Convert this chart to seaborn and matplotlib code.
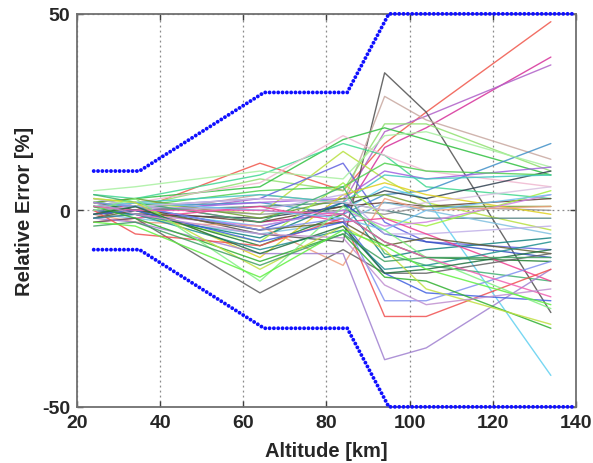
import matplotlib
matplotlib.use("Agg")
import matplotlib.pyplot as plt
import numpy as np
import pandas as pd
import seaborn as sns

# Altitudes (km) at which every retrieval profile is evaluated
altitude = [24, 34, 64, 84, 94, 104, 134]

# Relative error profiles [%] that end high / have a large upper excursion
upper_profiles = [
    [2, 0, 12, 5, 17, 25, 48],
    [-1, 2, -3, -1, 16, 21, 39],
    [0, -1, 3, 2, 20, 24, 37],
    [-2, 1, -6, -8, 35, 25, -26],
    [1, -1, 4, 2, 29, 23, 13],
    [3, 1, 8, 5, 22, 22, 10],
    [2, 3, 6, 18, 21, 18, 9],
    [4, 3, 9, 17, 14, 6, 3],
    [0, 2, 7, 19, 14, 10, 6],
    [0, 1, 2, -1, 4, 5, 17],
    [1, 2, -1, 15, 8, 2, -5],
    [0, 1, 3, 12, -3, -8, -10],
    [1, 0, -4, 0, 6, 3, -42],
    [5, 6, 10, 8, 19, 20, 11],
    [-1, 0, 2, 3, 10, 8, 11],
    [1, -1, -2, 1, 5, 3, 10],
    [2, 1, 5, 6, 12, 10, 9],
    [0, 2, 4, 2, 9, 8, 9],
]

# Profiles staying near zero
middle_profiles = [
    [-1, 0, -3, 1, 2, 1, 3],
    [0, 1, -1, 0, -1, 1, 0],
    [1, 0, 1, 2, 0, -2, -2],
    [2, 3, -2, 3, 4, 1, 1],
    [-1, -2, -6, -3, 2, 0, -6],
    [3, 2, -12, 4, 7, 4, -1],
    [1, -1, -8, 7, -2, -4, 5],
    [0, 1, -5, 2, -6, -8, -12],
    [-2, -1, -4, 0, -4, -3, 4],
    [2, 0, -9, -1, -8, -12, -13],
    [0, -1, -7, 2, -12, -10, -7],
    [-1, -3, -4, -14, 3, 0, 1],
    [3, 1, 0, 4, -6, -6, -4],
    [4, 2, -3, 6, -11, -14, -18],
    [-3, -2, 1, -3, -2, -6, -18],
    [-2, 0, -5, -3, -9, -7, -11],
    [1, 2, 0, -2, -5, 0, 4],
    [0, 1, 3, 2, 0, 2, 6],
]

# Profiles with a negative bias above 90 km
lower_profiles = [
    [-3, -2, -21, -10, -16, -16, -11],
    [-2, -3, -11, -11, -38, -35, -15],
    [0, -6, -9, -2, -27, -27, -15],
    [-1, 0, -8, -3, -16, -21, -23],
    [2, 1, -5, -2, -23, -23, -13],
    [-2, -1, -10, -5, -15, -14, -8],
    [1, -2, -13, -6, -17, -18, -30],
    [3, 2, -15, -4, -10, -20, -29],
    [0, 3, -18, 1, -5, -12, -25],
    [1, 0, 0, -1, -8, -12, -22],
    [-1, 1, -11, -4, -16, -15, -10],
    [2, -1, -6, -7, -19, -24, -20],
    [-4, -3, -14, -6, -13, -12, -12],
    [-3, -4, -17, -5, -9, -15, -24],
]

profile_colors = [
    "#f0564a", "#d6309a", "#b060c8", "#505050", "#c8a8a0", "#90e070",
    "#30c040", "#40d890", "#f0b8d0", "#4090c8", "#b8e040", "#6060e0",
    "#60d0f0", "#a8f0a0", "#a060e0", "#304050", "#50d050", "#40c8c0",
    "#604030", "#909090", "#508080", "#70a030", "#80c0e0", "#e0d020",
    "#a0f040", "#3050c0", "#d080e0", "#208030", "#108080", "#f0a080",
    "#c0b0e8", "#40b070", "#f04090", "#606030", "#70c0f0", "#d8c0e0",
    "#606060", "#a080d0", "#f05050", "#4060e0", "#8090f0", "#209090",
    "#30b030", "#c0e040", "#80f080", "#f060b0", "#207040", "#c090d0",
    "#40a060", "#60f040",
]

# Error tolerance envelope [%]
envelope_alt = [24, 35, 65, 85, 95, 140]
envelope_upper = [10, 10, 30, 30, 50, 50]
envelope_lower = [-10, -10, -30, -30, -50, -50]

all_profiles = upper_profiles + middle_profiles + lower_profiles
records = []
for idx, prof in enumerate(all_profiles):
    for alt, err in zip(altitude, prof):
        records.append({"altitude": alt, "error": err, "profile": idx})
df = pd.DataFrame(records)

env_df = pd.DataFrame({
    "altitude": envelope_alt + envelope_alt,
    "error": envelope_upper + envelope_lower,
    "bound": ["upper"] * len(envelope_alt) + ["lower"] * len(envelope_alt),
})

sns.set_style("white")
plt.rcParams["font.family"] = ["Liberation Sans", "DejaVu Sans"]
plt.rcParams["axes.unicode_minus"] = False

fig = plt.figure(figsize=(5.93, 4.64), dpi=100)
ax = fig.add_axes([0.130, 0.121, 0.841, 0.847])

sns.lineplot(data=df, x="altitude", y="error", hue="profile",
             palette=profile_colors[:len(all_profiles)], estimator=None,
             sort=False, legend=False, linewidth=1.0, alpha=0.85, ax=ax)

sns.lineplot(data=env_df, x="altitude", y="error", units="bound",
             estimator=None, sort=False, color="#1010ff", linewidth=2.8,
             linestyle=(0, (0.01, 1.1)), dash_capstyle="round",
             clip_on=False, zorder=5, ax=ax)

ax.set_xlim(20, 140)
ax.set_ylim(-50, 50)
ax.set_xticks([20, 40, 60, 80, 100, 120, 140])
ax.set_yticks([-50, 0, 50])

ax.grid(True, linestyle=(0, (1.5, 2.5)), color="#8a8a8a", linewidth=0.9)
ax.set_axisbelow(True)

for spine in ax.spines.values():
    spine.set_color("#707070")
    spine.set_linewidth(1.3)

ax.tick_params(direction="in", length=4, width=1.0, color="#404040",
               top=True, right=True, bottom=True, left=True,
               labelsize=14, pad=5)
for lbl in ax.get_xticklabels() + ax.get_yticklabels():
    lbl.set_fontweight("bold")

ax.set_xlabel("Altitude [km]", fontsize=14.5, fontweight="bold", labelpad=7)
ax.set_ylabel("Relative Error [%]", fontsize=14.5, fontweight="bold", labelpad=6)

fig.savefig("out.png", dpi=100)
